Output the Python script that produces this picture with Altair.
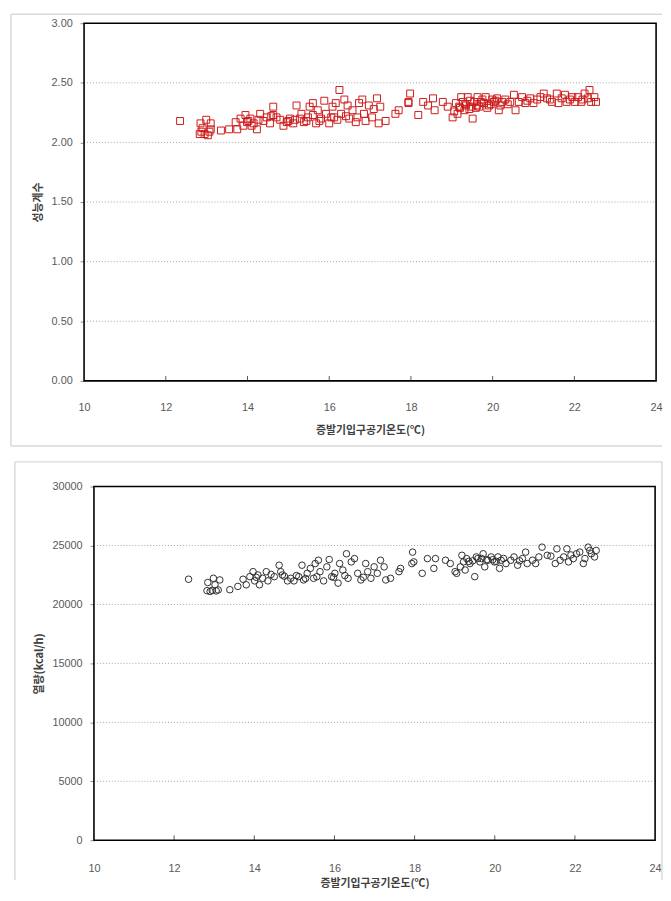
import altair as alt
import pandas as pd

# ---------- data ----------
cop_temp = [12.35, 12.83, 12.85, 12.87, 12.90, 12.95, 12.99, 13.03, 13.07, 13.10, 13.10, 13.35, 13.55,
            13.71, 13.75, 13.83, 13.90, 13.95, 13.99, 14.07, 14.10, 14.15, 14.23, 14.31, 14.39, 14.47,
            14.55, 14.63, 14.63, 14.71, 14.80, 14.88, 14.96, 15.04, 15.12, 15.20, 15.28, 15.32, 15.38,
            15.44, 15.52, 15.60, 15.60, 15.68, 15.72, 15.80, 15.88, 15.92, 16.00, 16.05, 16.08, 16.12,
            16.16, 16.25, 16.29, 16.37, 16.45, 16.49, 16.57, 16.65, 16.73, 16.81, 16.85, 16.89, 16.97,
            17.05, 17.09, 17.17, 17.21, 17.25, 17.38, 17.62, 17.70, 17.94, 17.94, 17.98, 18.18, 18.30,
            18.42, 18.54, 18.58, 18.78, 18.90, 19.02, 19.06, 19.10, 19.14, 19.18, 19.23, 19.27, 19.31,
            19.35, 19.39, 19.43, 19.47, 19.51, 19.55, 19.59, 19.63, 19.67, 19.71, 19.79, 19.83, 19.87,
            19.91, 19.99, 20.03, 20.11, 20.15, 20.23, 20.31, 20.43, 20.52, 20.56, 20.64, 20.72, 20.80,
            20.92, 21.00, 21.09, 21.17, 21.25, 21.33, 21.45, 21.57, 21.61, 21.69, 21.77, 21.81, 21.89,
            22.01, 22.09, 22.17, 22.25, 22.33, 22.37, 22.41, 22.49, 22.53,
            14.02, 14.27, 14.58, 15.00, 15.16, 15.48, 15.76, 16.20, 16.41, 16.69, 19.20, 19.33,
            19.45, 19.62, 19.75, 19.95, 20.07, 20.19, 20.37, 20.85, 21.40, 21.95, 22.20]
cop_value = [2.18, 2.07, 2.16, 2.09, 2.12, 2.07, 2.19, 2.06, 2.09, 2.16, 2.11, 2.10, 2.11,
             2.17, 2.11, 2.20, 2.14, 2.23, 2.17, 2.20, 2.14, 2.16, 2.11, 2.24, 2.18, 2.21,
             2.16, 2.30, 2.23, 2.21, 2.19, 2.14, 2.17, 2.20, 2.16, 2.31, 2.20, 2.24, 2.17,
             2.18, 2.30, 2.33, 2.23, 2.16, 2.27, 2.20, 2.35, 2.24, 2.16, 2.21, 2.30, 2.21,
             2.33, 2.44, 2.24, 2.36, 2.31, 2.20, 2.27, 2.17, 2.33, 2.36, 2.24, 2.18, 2.31,
             2.21, 2.28, 2.37, 2.16, 2.30, 2.18, 2.24, 2.27, 2.33, 2.34, 2.41, 2.23, 2.34,
             2.31, 2.37, 2.27, 2.34, 2.30, 2.21, 2.26, 2.33, 2.24, 2.30, 2.38, 2.34, 2.27,
             2.31, 2.38, 2.28, 2.30, 2.20, 2.34, 2.29, 2.38, 2.30, 2.34, 2.33, 2.38, 2.29,
             2.31, 2.36, 2.34, 2.37, 2.27, 2.34, 2.36, 2.34, 2.40, 2.27, 2.34, 2.38, 2.33,
             2.37, 2.33, 2.36, 2.38, 2.41, 2.37, 2.34, 2.41, 2.33, 2.37, 2.40, 2.34, 2.36,
             2.34, 2.38, 2.34, 2.41, 2.37, 2.44, 2.34, 2.38, 2.34,
             2.18, 2.19, 2.22, 2.18, 2.19, 2.21, 2.18, 2.19, 2.22, 2.21, 2.29, 2.32,
             2.35, 2.31, 2.36, 2.32, 2.35, 2.31, 2.32, 2.35, 2.36, 2.38, 2.36]

heat_temp = [12.36, 12.82, 12.84, 12.90, 12.95, 12.98, 13.02, 13.05, 13.10, 13.14, 13.39, 13.59, 13.72,
             13.80, 13.89, 13.97, 14.01, 14.09, 14.13, 14.21, 14.30, 14.34, 14.50, 14.62, 14.66, 14.70,
             14.83, 14.91, 14.99, 15.05, 15.11, 15.19, 15.23, 15.32, 15.40, 15.48, 15.52, 15.60, 15.64,
             15.73, 15.81, 15.87, 15.93, 16.01, 16.09, 16.13, 16.21, 16.30, 16.34, 16.42, 16.50, 16.58,
             16.66, 16.78, 16.83, 16.91, 16.99, 17.07, 17.15, 17.24, 17.28, 17.40, 17.61, 17.65, 17.93,
             17.95, 17.98, 18.19, 18.32, 18.48, 18.52, 18.77, 18.89, 19.01, 19.05, 19.14, 19.18, 19.22,
             19.26, 19.30, 19.38, 19.45, 19.50, 19.54, 19.63, 19.67, 19.71, 19.75, 19.83, 19.91, 19.95,
             19.99, 20.08, 20.12, 20.16, 20.28, 20.40, 20.48, 20.57, 20.69, 20.77, 20.81, 20.94, 21.02,
             21.10, 21.18, 21.31, 21.51, 21.55, 21.63, 21.72, 21.80, 21.84, 21.96, 22.04, 22.12, 22.21,
             22.25, 22.33, 22.37, 22.41, 22.49, 22.53,
             14.05, 14.42, 14.75, 15.28, 15.56, 15.98, 16.26, 16.72, 19.35, 19.58, 19.80, 20.04,
             20.22, 20.62, 21.40, 21.90]
heat_value = [22140, 21170, 21860, 21100, 21200, 22220, 21670, 21150, 21230, 22080, 21250, 21530, 22140,
              21670, 22360, 22780, 22000, 22500, 21670, 22220, 22780, 22000, 22360, 23330, 22780, 22500,
              22000, 22220, 22000, 22450, 22360, 23330, 22080, 22640, 23060, 22220, 23470, 23750, 22780,
              22000, 23190, 23810, 22360, 22640, 21810, 23470, 22920, 24300, 22220, 23610, 23890, 22640,
              22080, 23470, 22780, 22220, 23190, 22640, 23750, 23190, 22080, 22220, 22780, 23060, 23470,
              24440, 23610, 22640, 23890, 23060, 23890, 23750, 23470, 22780, 22640, 23190, 24170, 23610,
              22920, 23890, 23470, 23700, 22360, 24030, 23610, 23900, 24300, 23190, 23750, 24030, 23800,
              23610, 24030, 23060, 23750, 23470, 23750, 24030, 23330, 23890, 24440, 23470, 23750, 23470,
              24030, 24860, 24170, 23470, 24720, 23750, 24030, 24720, 23610, 23890, 24300, 24440, 23470,
              23890, 24860, 24580, 24300, 24030, 24580,
              22300, 22550, 22400, 22200, 22350, 22300, 22450, 22300, 23650, 23900, 23800, 23650,
              23900, 23700, 24100, 24200]

x_ticks = [10, 12, 14, 16, 18, 20, 22, 24]
x_inner_ticks = [12, 14, 16, 18, 20, 22]
cop_ticks = [0.0, 0.5, 1.0, 1.5, 2.0, 2.5, 3.0]
cop_grid = [0.5, 1.0, 1.5, 2.0, 2.5]
heat_ticks = [0, 5000, 10000, 15000, 20000, 25000, 30000]
heat_grid = [5000, 10000, 15000, 20000, 25000]

x_title = "증발기입구공기온도(℃)"
cop_title = "성능계수"
heat_title = "열량(kcal/h)"

# ---------- styling ----------
W1, H1 = 579, 362
W2, H2 = 579, 358
X2L, X2R = 10, 578          # bottom plot area inside its view (shifted right)
FRAME = "#d9d9d9"
LABEL_FONT = "Liberation Sans"
TITLE_FONT = "Noto Sans CJK KR"
LABEL_COLOR = "#595959"
TITLE_COLOR = "#404040"

one = pd.DataFrame({"k": [0]})


def rule(x, x2, y, y2, color=FRAME, width=1.5):
    return alt.Chart(one).mark_rule(color=color, strokeWidth=width).encode(
        x=alt.value(x), x2=alt.value(x2), y=alt.value(y), y2=alt.value(y2))


def box(x, x2, h):
    return alt.Chart(one).mark_rect(fillOpacity=0, stroke="black", strokeWidth=1.6).encode(
        x=alt.value(x), x2=alt.value(x2), y=alt.value(0), y2=alt.value(h))


def yaxis(title, values, fmt, offset, tpad):
    return alt.Axis(title=title, values=values, format=fmt, grid=False, domain=False,
                    ticks=True, tickSize=4, tickColor="#8c8c8c", tickWidth=1,
                    labelFont=LABEL_FONT, labelFontSize=11, labelColor=LABEL_COLOR, labelPadding=8,
                    titleFont=TITLE_FONT, titleFontSize=11, titleFontWeight="bold",
                    titleColor=TITLE_COLOR, titlePadding=tpad, offset=offset)


def xaxis(lpad, tpad):
    return alt.Axis(title=x_title, values=x_ticks, format="d", grid=False, domain=False,
                    ticks=False, labelFlush=False,
                    labelFont=LABEL_FONT, labelFontSize=11, labelColor=LABEL_COLOR, labelPadding=lpad,
                    titleFont=TITLE_FONT, titleFontSize=11, titleFontWeight="bold",
                    titleColor=TITLE_COLOR, titlePadding=tpad)


# ---------- top panel ----------
xs1 = alt.Scale(domain=[10, 24], nice=False, zero=False)
ys1 = alt.Scale(domain=[0, 3], nice=False, zero=False)
xa1 = xaxis(21, 12)
ya1 = yaxis(cop_title, cop_ticks, ".2f", 0, 8)

top_df = pd.DataFrame({"t": cop_temp, "v": cop_value})
top_grid = alt.Chart(pd.DataFrame({"v": cop_grid})).mark_rule(
    color="#a6a6a6", strokeDash=[1, 2], strokeWidth=1).encode(
    y=alt.Y("v:Q", scale=ys1, axis=ya1), x=alt.value(0), x2=alt.value(W1))
top_ticks = alt.Chart(pd.DataFrame({"t": x_inner_ticks})).mark_rule(color="#595959", strokeWidth=1).encode(
    x=alt.X("t:Q", scale=xs1, axis=xa1), y=alt.value(H1), y2=alt.value(H1 - 5))
top_pts = alt.Chart(top_df).mark_point(shape="square", filled=False, color="#cc1a1a",
                                        size=49, strokeWidth=1, opacity=1).encode(
    x=alt.X("t:Q", scale=xs1, axis=xa1),
    y=alt.Y("v:Q", scale=ys1, axis=ya1))

top = alt.layer(
    rule(-74, 585, -9, -9), rule(-74, -74, -9, H1 + 66), rule(-74, 585, H1 + 66, H1 + 66),
    top_grid, top_ticks, top_pts, box(0, W1, H1),
).properties(width=W1, height=H1)

# ---------- bottom panel ----------
xs2 = alt.Scale(domain=[10, 24], nice=False, zero=False, range=[X2L, X2R])
ys2 = alt.Scale(domain=[0, 30000], nice=False, zero=False)
xa2 = xaxis(23, 4)
ya2 = yaxis(heat_title, heat_ticks, "d", -X2L, 7)

bot_df = pd.DataFrame({"t": heat_temp, "v": heat_value})
bot_grid = alt.Chart(pd.DataFrame({"v": heat_grid})).mark_rule(
    color="#a6a6a6", strokeDash=[1, 2], strokeWidth=1).encode(
    y=alt.Y("v:Q", scale=ys2, axis=ya2), x=alt.value(X2L), x2=alt.value(X2R))
bot_ticks = alt.Chart(pd.DataFrame({"t": x_inner_ticks})).mark_rule(color="#595959", strokeWidth=1).encode(
    x=alt.X("t:Q", scale=xs2, axis=xa2), y=alt.value(H2), y2=alt.value(H2 - 5))
bot_pts = alt.Chart(bot_df).mark_point(shape="circle", filled=False, color="#303030",
                                        size=44, strokeWidth=1, opacity=1).encode(
    x=alt.X("t:Q", scale=xs2, axis=xa2),
    y=alt.Y("v:Q", scale=ys2, axis=ya2))

bottom = alt.layer(
    rule(-70, 585, -25, -25), rule(-70, -70, -25, 398), rule(585, 585, -25, 398),
    bot_grid, bot_ticks, bot_pts, box(X2L, X2R, H2),
).properties(width=W2, height=H2)

chart = alt.vconcat(top, bottom, spacing=14).properties(
    padding={"left": 2, "top": 0, "right": 0, "bottom": 0},
    background="white",
).configure_view(strokeWidth=0)

chart.save("out.html", embed_options={"renderer": "svg", "actions": False})
